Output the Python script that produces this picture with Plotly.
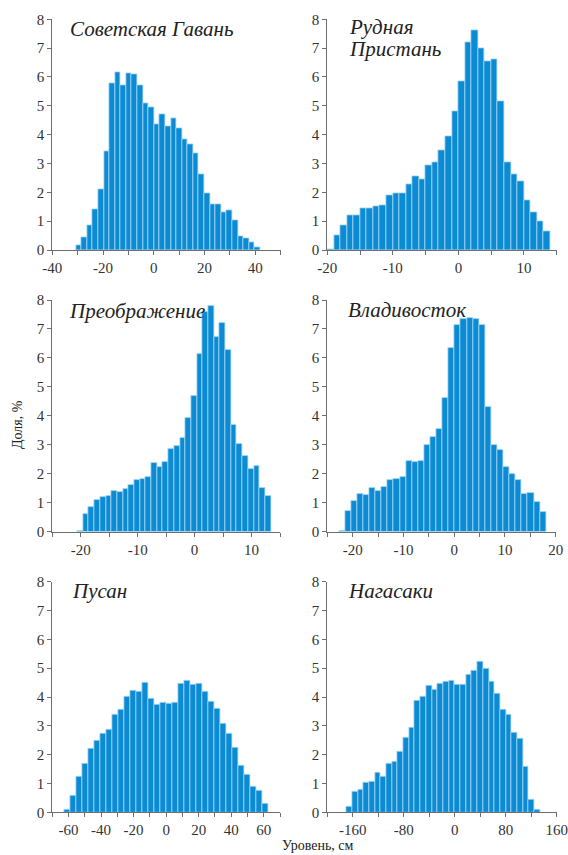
import plotly.graph_objects as go

# ---- data (heights in %, bins: start, width) ----
names = ["Советская Гавань", "Рудная Пристань", "Преображение", "Владивосток", "Пусан", "Нагасаки"]

sg_start, sg_width = -30.7, 2.2
sg_vals = [0.15, 0.45, 0.85, 1.4, 2.12, 3.42, 5.77, 6.15, 5.7, 6.12, 6.08, 5.7, 5.07, 4.95, 4.35,
           4.7, 4.3, 4.55, 4.22, 3.85, 3.65, 3.35, 2.62, 1.95, 1.6, 1.58, 1.3, 1.37, 1.02, 0.47,
           0.4, 0.25, 0.1]

rp_start, rp_width = -20.0, 1.0
rp_vals = [0.02, 0.5, 0.85, 1.2, 1.2, 1.45, 1.45, 1.52, 1.55, 1.9, 1.95, 1.95, 2.27, 2.55, 2.45,
           2.95, 3.05, 3.47, 3.93, 4.82, 5.85, 7.2, 7.62, 6.98, 6.55, 6.6, 5.15, 3.05, 2.62, 2.38,
           1.72, 1.32, 1.0, 0.65]

pr_start, pr_width = -20.6, 1.0
pr_vals = [0.03, 0.62, 0.87, 1.1, 1.2, 1.25, 1.4, 1.37, 1.48, 1.6, 1.78, 1.83, 1.88, 2.38, 2.23,
           2.4, 2.85, 2.95, 3.25, 3.93, 4.68, 6.15, 7.58, 7.8, 6.72, 7.22, 6.28, 3.68, 3.02, 2.62,
           2.17, 2.27, 1.52, 1.23]

vl_start, vl_width = -22.7, 1.2
vl_vals = [0.03, 0.73, 1.05, 1.3, 1.28, 1.52, 1.42, 1.55, 1.8, 1.83, 1.88, 2.45, 2.4, 2.45, 2.98,
           3.28, 3.55, 4.6, 6.33, 7.15, 7.33, 7.37, 7.35, 7.15, 4.32, 3.0, 2.82, 2.23, 2.0, 1.78,
           1.3, 1.32, 1.02, 0.68]

ps_start, ps_width = -62.5, 3.69
ps_vals = [0.08, 0.57, 1.22, 1.7, 2.2, 2.47, 2.73, 2.85, 3.37, 3.57, 4.0, 4.22, 4.2, 4.5, 3.93,
           3.75, 3.8, 3.77, 3.8, 4.45, 4.55, 4.42, 4.45, 4.18, 3.83, 3.6, 3.08, 2.73, 2.25, 1.62,
           1.32, 0.88, 0.75, 0.3]

ng_start, ng_width = -170.0, 8.94
ng_vals = [0.2, 0.7, 0.78, 1.03, 1.05, 1.37, 1.22, 1.67, 1.75, 2.1, 2.58, 2.93, 3.88, 4.02, 4.38,
           4.27, 4.47, 4.52, 4.58, 4.42, 4.43, 4.77, 4.92, 5.22, 4.98, 4.53, 4.12, 3.55, 3.4, 2.77,
           2.55, 1.57, 0.43, 0.08]

# axis settings: range, major tick labels, minor dtick
x_ranges = [(-40, 50), (-20, 15), (-25, 15), (-25, 20), (-70, 70), (-200, 160)]
x_tickvals = [
    [-40, -20, 0, 20, 40],
    [-20, -10, 0, 10],
    [-20, -10, 0, 10],
    [-20, -10, 0, 10, 20],
    [-60, -40, -20, 0, 20, 40, 60],
    [-160, -80, 0, 80, 160],
]
x_ticktext = [
    ["-40", "-20", "0", "20", "40"],
    ["-20", "-10", "0", "10"],
    ["-20", "-10", "0", "10"],
    ["-20", "-10", "0", "10", "20"],
    ["-60", "-40", "-20", "0", "20", "40", "60"],
    ["-160", "-80", "0", "80", "160"],
]
x_minor = [10, 5, 5, 5, 10, 40]
y_ticks = list(range(0, 9))

y_label = "Доля, %"
x_label = "Уровень, см"

panels = [
    (sg_start, sg_width, sg_vals),
    (rp_start, rp_width, rp_vals),
    (pr_start, pr_width, pr_vals),
    (vl_start, vl_width, vl_vals),
    (ps_start, ps_width, ps_vals),
    (ng_start, ng_width, ng_vals),
]

# ---- layout geometry (pixels) ----
W, H = 568, 855
x_px = [(52.3, 280.7), (327.3, 556.7), (52.3, 280.0), (327.3, 555.7), (52.3, 280.0), (327.3, 556.7)]
y_px = [(250.0, 19.3), (250.0, 19.3), (531.7, 300.0), (531.7, 300.0), (812.3, 581.7), (812.3, 581.7)]

BAR = "#0a8bd3"
EDGE = "#a9d8f2"
AX = "#6e6e6e"
TXT = "#333333"
FONT = "'Liberation Serif', 'Times New Roman', Times, serif"

fig = go.Figure()
layout = {}
for i, (start, width, vals) in enumerate(panels):
    k = "" if i == 0 else str(i + 1)
    centers = [start + width * (j + 0.5) for j in range(len(vals))]
    fig.add_trace(go.Bar(
        x=centers, y=vals, width=width,
        marker=dict(color=BAR, line=dict(color=EDGE, width=0.8)),
        xaxis="x" + k, yaxis="y" + k, showlegend=False, hoverinfo="x+y",
    ))
    x0, x1 = x_px[i]
    yb, yt = y_px[i]
    layout["xaxis" + k] = dict(
        domain=[x0 / W, x1 / W], anchor="y" + k, range=list(x_ranges[i]),
        tickvals=x_tickvals[i], ticktext=x_ticktext[i],
        ticks="outside", ticklen=4, tickcolor=AX,
        minor=dict(dtick=x_minor[i], tick0=0, ticks="outside", ticklen=4, tickcolor=AX),
        showline=True, linecolor=AX, linewidth=1, showgrid=False, zeroline=False,
        tickfont=dict(family=FONT, size=15, color=TXT), fixedrange=True, automargin=False,
    )
    layout["yaxis" + k] = dict(
        domain=[1 - yb / H, 1 - yt / H], anchor="x" + k, range=[0, 8],
        tickvals=y_ticks, ticks="outside", ticklen=4, tickcolor=AX,
        showline=True, linecolor=AX, linewidth=1, showgrid=False, zeroline=False,
        tickfont=dict(family=FONT, size=15, color=TXT), fixedrange=True, automargin=False,
    )

title_pos = [
    (0.069, 0.958, "Советская Гавань"),
    (0.085, 0.965, "Рудная"),
    (0.085, 0.87, "Пристань"),
    (0.066, 0.952, "Преображение"),
    (0.082, 0.956, "Владивосток"),
    (0.078, 0.96, "Пусан"),
    (0.082, 0.96, "Нагасаки"),
]
panel_of_title = [0, 1, 1, 2, 3, 4, 5]
annotations = []
for (tx, ty, txt), p in zip(title_pos, panel_of_title):
    k = "" if p == 0 else str(p + 1)
    annotations.append(dict(
        x=tx, y=ty, xref="x" + k + " domain", yref="y" + k + " domain",
        text="<i>" + txt + "</i>", showarrow=False, xanchor="left", yanchor="middle",
        font=dict(family=FONT, size=21, color="#222222"),
    ))

annotations.append(dict(
    x=18 / W, y=1 - 425 / H, xref="paper", yref="paper", text=y_label, textangle=-90,
    showarrow=False, xanchor="center", yanchor="middle",
    font=dict(family=FONT, size=14, color="#222222"),
))
annotations.append(dict(
    x=318 / W, y=1 - 845 / H, xref="paper", yref="paper", text=x_label,
    showarrow=False, xanchor="center", yanchor="middle",
    font=dict(family=FONT, size=14, color="#222222"),
))

fig.update_layout(
    width=W, height=H, margin=dict(l=0, r=0, t=0, b=0),
    paper_bgcolor="white", plot_bgcolor="white",
    bargap=0, annotations=annotations, **layout,
)

fig.write_html("out.html")
